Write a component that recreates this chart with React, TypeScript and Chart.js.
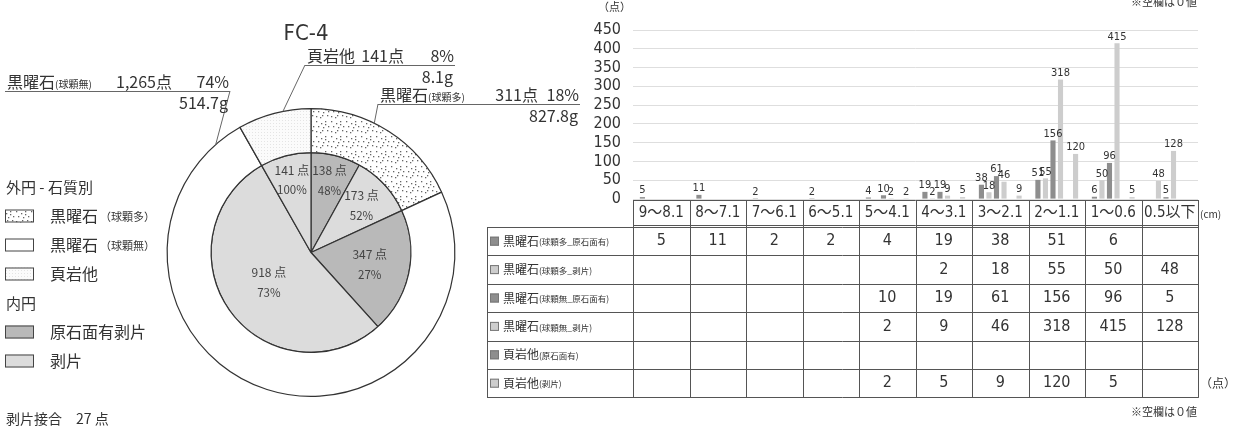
import React, { useEffect, useRef } from "react";
import { Chart, registerables } from "chart.js";

Chart.register(...registerables);

const JP = "'Noto Sans CJK JP', 'Noto Sans', sans-serif";
const NUM = "'Liberation Sans Narrow', 'DejaVu Sans Condensed', 'Noto Sans CJK JP', sans-serif";
const INK = "#333333";
const LINE = "#555555";

// ---------- pie (outer = stone type, inner = flake type)
const titleText = "FC-4";
const outerNames = ["黒曜石", "黒曜石", "頁岩他"];
const outerSubs = ["(球顆多)", "(球顆無)", ""];
const outerCounts = [311, 1265, 141];
const outerPercents = ["18%", "74%", "8%"];
const outerWeights = ["827.8g", "514.7g", "8.1g"];
const innerNames = ["球顆多 原石面有剥片", "球顆多 剥片", "球顆無 原石面有剥片", "球顆無 剥片", "頁岩他 剥片"];
const innerCounts = [138, 173, 347, 918, 141];
const innerPercents = ["48%", "52%", "27%", "73%", "100%"];

const legendOuterTitle = "外円 - 石質別";
const legendOuterNames = ["黒曜石", "黒曜石", "頁岩他"];
const legendOuterSubs = ["（球顆多）", "（球顆無）", ""];
const legendInnerTitle = "内円";
const legendInnerNames = ["原石面有剥片", "剥片"];
const footText = "剥片接合　27 点";

// ---------- bar + table
const sizeClasses = ["9～8.1", "8～7.1", "7～6.1", "6～5.1", "5～4.1", "4～3.1", "3～2.1", "2～1.1", "1～0.6", "0.5以下"];
const seriesNames = ["黒曜石", "黒曜石", "黒曜石", "黒曜石", "頁岩他", "頁岩他"];
const seriesSubs = ["(球顆多_原石面有)", "(球顆多_剥片)", "(球顆無_原石面有)", "(球顆無_剥片)", "(原石面有)", "(剥片)"];
const obsManyCortex = [5, 11, 2, 2, 4, 19, 38, 51, 6, null];
const obsManyFlake = [null, null, null, null, null, 2, 18, 55, 50, 48];
const obsNoneCortex = [null, null, null, null, 10, 19, 61, 156, 96, 5];
const obsNoneFlake = [null, null, null, null, 2, 9, 46, 318, 415, 128];
const shaleCortex = [null, null, null, null, null, null, null, null, null, null];
const shaleFlake = [null, null, null, null, 2, 5, 9, 120, 5, null];
const seriesValues = [obsManyCortex, obsManyFlake, obsNoneCortex, obsNoneFlake, shaleCortex, shaleFlake];
const yMax = 450;
const yStep = 50;

const DARK = "#8e8e8e";
const LIGHT = "#cdcdcd";
const barColors = [DARK, LIGHT, DARK, LIGHT, DARK, LIGHT];

const stippleDots = [[1, 1], [6, 3], [10, 1], [3, 6], [8, 7], [12, 10], [1, 11], [5, 12], [10, 4], [13, 6], [7, 10]];

function makePattern(ctx: CanvasRenderingContext2D, size: number, draw: (g: CanvasRenderingContext2D) => void) {
  const c = document.createElement("canvas");
  c.width = size;
  c.height = size;
  const g = c.getContext("2d")!;
  draw(g);
  return ctx.createPattern(c, "repeat")!;
}

export default function App() {
  const pieRef = useRef<HTMLCanvasElement>(null);
  const barRef = useRef<HTMLCanvasElement>(null);

  useEffect(() => {
    const pc = pieRef.current!;
    const bc = barRef.current!;
    const pctx = pc.getContext("2d")!;

    const stipple = makePattern(pctx, 15, (g) => {
      g.fillStyle = "#ffffff";
      g.fillRect(0, 0, 15, 15);
      g.fillStyle = "#666666";
      stippleDots.forEach(([x, y]) => g.fillRect(x, y, 1.3, 1.3));
    });
    const shale = makePattern(pctx, 3, (g) => {
      g.fillStyle = "#fbfbfb";
      g.fillRect(0, 0, 3, 3);
      g.fillStyle = "#e4e4e4";
      g.fillRect(0, 0, 1, 1);
    });
    const innerDark = "#b9b9b9";
    const innerLight = "#dcdcdc";
    const outerFills = [stipple, "#ffffff", shale];
    const innerFills = [innerDark, innerLight, innerDark, innerLight, innerLight];
    const innerLabelRadius = [0.74, 0.69, 0.6, 0.52, 0.75];
    const leaderSpecs = [
      { slice: 0, frac: 0.4, left: 378, right: 580, lineY: 104, anchorLeft: true, countRight: 538 },
      { slice: 1, frac: 0.955, left: 5, right: 230, lineY: 91, anchorLeft: false, countRight: 172 },
      { slice: 2, frac: 0.62, left: 305, right: 455, lineY: 65, anchorLeft: true, countRight: 404 },
    ];

    const piePlugin = {
      id: "pieDecor",
      afterDraw(chart: any) {
        const ctx: CanvasRenderingContext2D = chart.ctx;
        ctx.save();
        const outer = chart.getDatasetMeta(0).data as any[];
        const inner = chart.getDatasetMeta(1).data as any[];

        // inner labels
        ctx.fillStyle = "#444";
        ctx.textAlign = "center";
        ctx.textBaseline = "middle";
        inner.forEach((arc, i) => {
          const mid = (arc.startAngle + arc.endAngle) / 2;
          const r = arc.outerRadius * innerLabelRadius[i];
          const px = arc.x + Math.cos(mid) * r;
          const py = arc.y + Math.sin(mid) * r;
          ctx.font = `12px ${JP}`;
          ctx.fillText(`${innerCounts[i]} 点`, px, py - 10);
          ctx.font = `11.5px ${JP}`;
          ctx.fillText(innerPercents[i], px, py + 10);
        });

        // outer leader labels
        leaderSpecs.forEach((s) => {
          const arc = outer[s.slice];
          const a = arc.startAngle + s.frac * (arc.endAngle - arc.startAngle);
          const px = arc.x + Math.cos(a) * arc.outerRadius;
          const py = arc.y + Math.sin(a) * arc.outerRadius;
          ctx.strokeStyle = "#666";
          ctx.lineWidth = 1;
          ctx.beginPath();
          ctx.moveTo(px, py);
          ctx.lineTo(s.anchorLeft ? s.left : s.right, s.lineY);
          ctx.stroke();
          ctx.beginPath();
          ctx.moveTo(s.left, s.lineY + 0.5);
          ctx.lineTo(s.right, s.lineY + 0.5);
          ctx.stroke();

          const base = s.lineY - 3;
          ctx.fillStyle = INK;
          ctx.textBaseline = "alphabetic";
          ctx.textAlign = "left";
          ctx.font = `16px ${JP}`;
          ctx.fillText(outerNames[s.slice], s.left + 2, base);
          const w = ctx.measureText(outerNames[s.slice]).width;
          ctx.font = `10px ${JP}`;
          ctx.fillText(outerSubs[s.slice], s.left + 2 + w, base);
          ctx.textAlign = "right";
          ctx.font = `16px ${JP}`;
          ctx.fillText(`${outerCounts[s.slice].toLocaleString("en-US")}点`, s.countRight, base);
          ctx.fillText(outerPercents[s.slice], s.right - 1, base);
          ctx.fillText(outerWeights[s.slice], s.right - 2, s.lineY + 18);
        });

        // title
        ctx.textAlign = "center";
        ctx.textBaseline = "middle";
        ctx.font = `22px ${NUM}`;
        ctx.fillText(titleText, 306, 34);

        // legend
        ctx.textAlign = "left";
        ctx.font = `15px ${JP}`;
        ctx.fillText(legendOuterTitle, 6, 187);
        const outerRowsY = [216, 245, 274];
        outerRowsY.forEach((y, i) => {
          ctx.fillStyle = outerFills[i] as any;
          ctx.fillRect(5, y - 6.5, 29, 13);
          ctx.strokeStyle = "#444";
          ctx.strokeRect(5.5, y - 6, 28, 12);
          ctx.fillStyle = INK;
          ctx.font = `16px ${JP}`;
          ctx.fillText(legendOuterNames[i], 50, y);
          const w = ctx.measureText(legendOuterNames[i]).width;
          ctx.font = `11px ${JP}`;
          ctx.fillText(legendOuterSubs[i], 50 + w + 2, y + 1);
        });
        ctx.font = `15px ${JP}`;
        ctx.fillText(legendInnerTitle, 6, 303);
        const innerRowsY = [332, 361];
        const innerLegendFills = [innerDark, innerLight];
        innerRowsY.forEach((y, i) => {
          ctx.fillStyle = innerLegendFills[i];
          ctx.fillRect(5, y - 6.5, 29, 13);
          ctx.strokeStyle = "#444";
          ctx.strokeRect(5.5, y - 6, 28, 12);
          ctx.fillStyle = INK;
          ctx.font = `16px ${JP}`;
          ctx.fillText(legendInnerNames[i], 50, y);
        });
        ctx.font = `14px ${JP}`;
        ctx.fillText(footText, 6, 419);
        ctx.restore();
      },
    };

    const pie = new Chart(pc, {
      type: "pie",
      data: {
        labels: innerNames,
        datasets: [
          { data: outerCounts, backgroundColor: outerFills as any, borderColor: "#333", borderWidth: 1.2, weight: 44 } as any,
          { data: innerCounts, backgroundColor: innerFills, borderColor: "#333", borderWidth: 1.2, weight: 100 } as any,
        ],
      },
      options: {
        responsive: false,
        animation: false,
        events: [],
        layout: { padding: { left: 166, top: 108, right: 600 - 456, bottom: 426 - 397 } },
        plugins: { legend: { display: false }, tooltip: { enabled: false } },
      },
      plugins: [piePlugin],
    });

    const barPlugin = {
      id: "barDecor",
      afterDraw(chart: any) {
        const ctx: CanvasRenderingContext2D = chart.ctx;
        ctx.save();
        // value labels
        ctx.fillStyle = INK;
        ctx.textAlign = "center";
        ctx.textBaseline = "bottom";
        ctx.font = `11px ${NUM}`;
        seriesValues.forEach((arr, di) => {
          const meta = chart.getDatasetMeta(di);
          meta.data.forEach((bar: any, j: number) => {
            const v = arr[j];
            if (v == null) return;
            ctx.fillText(String(v), bar.x, bar.y - 1);
          });
        });

        // table
        const xs = chart.scales.x;
        const n = sizeClasses.length;
        const L = xs.left;
        const R = xs.right;
        const cw = (R - L) / n;
        const top = Math.round(chart.chartArea.bottom) + 1;
        const headH = 27;
        const rowsTop = top + headH;
        const rowH = 28.4;
        const nRows = seriesValues.length;
        const bottom = rowsTop + rowH * nRows;
        const labelL = 7;
        ctx.strokeStyle = LINE;
        ctx.lineWidth = 1;
        const hline = (x1: number, x2: number, y: number) => {
          ctx.beginPath();
          ctx.moveTo(x1, Math.round(y) + 0.5);
          ctx.lineTo(x2, Math.round(y) + 0.5);
          ctx.stroke();
        };
        const vline = (x: number, y1: number, y2: number) => {
          ctx.beginPath();
          ctx.moveTo(Math.round(x) + 0.5, y1);
          ctx.lineTo(Math.round(x) + 0.5, y2);
          ctx.stroke();
        };
        hline(L, R, top);
        hline(L, R, rowsTop - 2);
        for (let r = 0; r <= nRows; r++) hline(labelL, R, rowsTop + r * rowH);
        for (let k = 0; k <= n; k++) vline(L + k * cw, top, bottom + 0.5);
        vline(labelL, rowsTop, bottom + 0.5);

        // header
        ctx.textBaseline = "middle";
        ctx.textAlign = "center";
        ctx.font = `15px ${NUM}`;
        sizeClasses.forEach((s, k) => ctx.fillText(s, L + (k + 0.5) * cw, top + headH / 2));

        // rows
        seriesValues.forEach((arr, r) => {
          const cy = rowsTop + rowH * (r + 0.5);
          ctx.fillStyle = barColors[r];
          ctx.fillRect(labelL + 3, cy - 4.5, 9, 9);
          ctx.strokeStyle = "#777";
          ctx.strokeRect(labelL + 3.5, cy - 4, 8, 8);
          ctx.fillStyle = INK;
          ctx.textAlign = "left";
          ctx.font = `12px ${JP}`;
          ctx.fillText(seriesNames[r], labelL + 16, cy);
          const w = ctx.measureText(seriesNames[r]).width;
          ctx.font = `8.5px ${JP}`;
          ctx.fillText(seriesSubs[r], labelL + 16 + w, cy + 1);
          ctx.textAlign = "center";
          ctx.font = `16px ${NUM}`;
          arr.forEach((v, k) => {
            if (v == null) return;
            ctx.fillText(String(v), L + (k + 0.5) * cw, cy);
          });
        });

        // notes
        ctx.textAlign = "left";
        ctx.font = `10px ${JP}`;
        ctx.fillText("(cm)", R + 2, top + 14);
        ctx.font = `12px ${JP}`;
        ctx.fillText("（点）", R + 2, rowsTop + rowH * (nRows - 0.5));
        ctx.font = `11px ${JP}`;
        ctx.fillText("（点）", 118, 7);
        ctx.textAlign = "right";
        ctx.fillText("※空欄は０値", R - 1, 412);
        ctx.fillText("※空欄は０値", R - 1, 2);
        ctx.restore();
      },
    };

    const bar = new Chart(bc, {
      type: "bar",
      data: {
        labels: sizeClasses,
        datasets: seriesValues.map((d, i) => ({
          label: seriesNames[i] + seriesSubs[i],
          data: d as any,
          backgroundColor: barColors[i],
          borderWidth: 0,
          barPercentage: 0.68,
          categoryPercentage: 0.8,
        })),
      },
      options: {
        responsive: false,
        animation: false,
        events: [],
        layout: { padding: { left: 0, top: 30, right: 41, bottom: 227 } },
        scales: {
          x: { display: false },
          y: {
            min: 0,
            max: yMax,
            ticks: { stepSize: yStep, autoSkip: false, color: INK, padding: 12, font: { size: 16, family: NUM, lineHeight: 1 } },
            grid: { color: "#d6d6d6", drawTicks: false, lineWidth: 0.8 },
            border: { display: false },
            afterFit: (axis: any) => {
              axis.width = 153;
            },
          },
        },
        plugins: { legend: { display: false }, tooltip: { enabled: false } },
      },
      plugins: [barPlugin],
    });

    return () => {
      pie.destroy();
      bar.destroy();
    };
  }, []);

  return (
    <div style={{ position: "fixed", left: 0, top: 0, width: 1239, height: 426, background: "#fff", overflow: "hidden" }}>
      <canvas ref={pieRef} width={600} height={426} style={{ position: "absolute", left: 0, top: 0, width: 600, height: 426 }} />
      <canvas ref={barRef} width={759} height={426} style={{ position: "absolute", left: 480, top: 0, width: 759, height: 426 }} />
    </div>
  );
}
